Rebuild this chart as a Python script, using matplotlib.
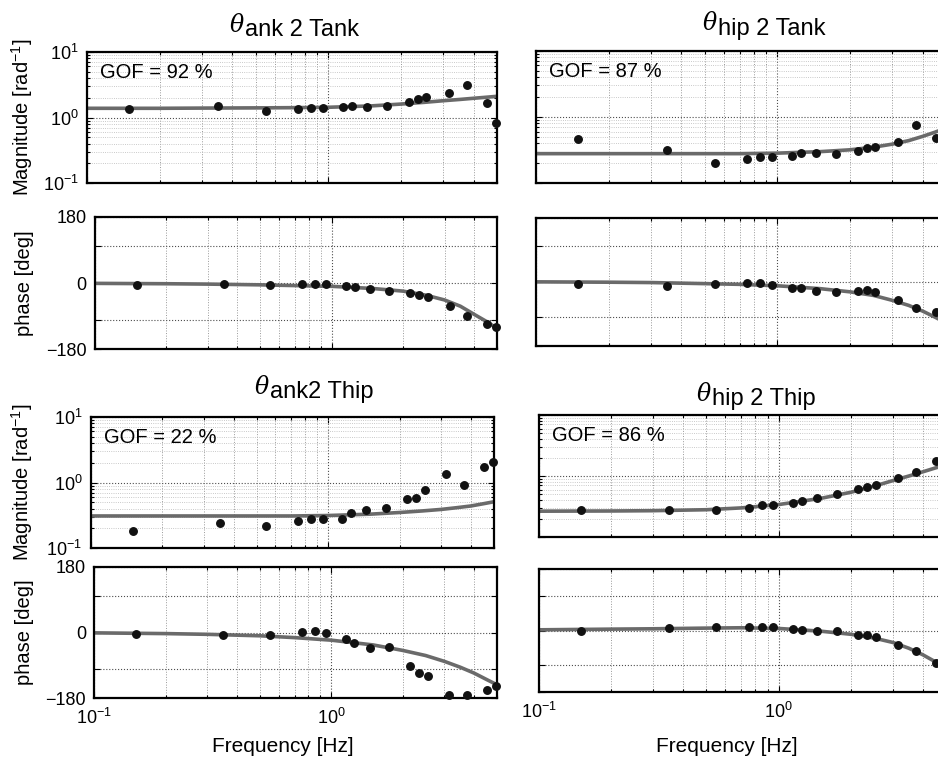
import matplotlib
matplotlib.use("Agg")
import matplotlib.pyplot as plt
import matplotlib.transforms as mtrans
from matplotlib.ticker import LogLocator, NullFormatter, FixedLocator, FixedFormatter

plt.rcParams['font.family'] = ['Liberation Sans', 'DejaVu Sans']
plt.rcParams['mathtext.fontset'] = 'custom'
plt.rcParams['mathtext.rm'] = 'Liberation Sans'
plt.rcParams['mathtext.it'] = 'Liberation Sans:italic'
plt.rcParams['mathtext.default'] = 'regular'

# ---------------- data ----------------
freqs = [0.15, 0.35, 0.55, 0.75, 0.85, 0.95, 1.15, 1.25, 1.45, 1.75,
         2.15, 2.35, 2.55, 3.15, 3.75, 4.55, 4.95]

mag_ank_ank = [1.33, 1.50, 1.27, 1.35, 1.38, 1.38, 1.43, 1.50, 1.46, 1.50,
               1.74, 1.89, 2.03, 2.38, 3.12, 1.64, 0.82]
phase_ank_ank = [-6, -4, -5, -3, -2, -2, -8, -10, -15, -23,
                 -26, -32, -39, -62, -89, -111, -120]

mag_hip_ank = [0.46, 0.32, 0.20, 0.23, 0.25, 0.25, 0.26, 0.29, 0.29, 0.28,
               0.31, 0.34, 0.35, 0.42, 0.76, 0.48, 0.45]
phase_hip_ank = [-6, -13, -6, -4, -4, -8, -17, -17, -25, -29,
                 -25, -24, -28, -50, -74, -85, -100]

mag_ank_hip = [0.185, 0.245, 0.218, 0.257, 0.28, 0.275, 0.28, 0.35, 0.38, 0.405,
               0.56, 0.58, 0.78, 1.33, 0.92, 1.70, 2.07]
phase_ank_hip = [-5, -6, -7, 2, 4, -2, -18, -30, -42, -40,
                 -93, -110, -119, -171, -172, -157, -146]

mag_hip_hip = [0.274, 0.274, 0.28, 0.30, 0.33, 0.34, 0.36, 0.39, 0.43, 0.515,
               0.61, 0.65, 0.71, 0.93, 1.17, 1.75, 1.90]
phase_hip_hip = [-2, 6, 9, 10, 9, 9, 5, 1, -2, -2,
                 -12, -14, -18, -41, -59, -95, -110]

fit_f = [0.1, 0.2, 0.3, 0.5, 0.7, 1.0, 1.5, 2.0, 2.5, 3.0, 3.5, 4.0, 4.5, 5.0]
fit_mag_ank_ank = [1.38, 1.38, 1.39, 1.40, 1.41, 1.43, 1.50, 1.60, 1.70, 1.80, 1.88, 1.96, 2.03, 2.10]
fit_phase_ank_ank = [-1, -2, -3, -5, -7, -9, -15, -22, -33, -46, -63, -85, -104, -123]
fit_mag_hip_ank = [0.28, 0.28, 0.28, 0.28, 0.28, 0.285, 0.30, 0.32, 0.35, 0.39, 0.44, 0.51, 0.59, 0.68]
fit_phase_hip_ank = [0, -1, -2, -5, -7, -11, -19, -28, -38, -52, -66, -82, -99, -115]
fit_mag_ank_hip = [0.31, 0.31, 0.31, 0.31, 0.31, 0.315, 0.33, 0.35, 0.37, 0.39, 0.415, 0.44, 0.475, 0.51]
fit_phase_ank_hip = [-1, -3, -5, -9, -14, -21, -34, -49, -63, -79, -95, -111, -128, -143]
fit_mag_hip_hip = [0.265, 0.267, 0.27, 0.28, 0.30, 0.34, 0.43, 0.54, 0.68, 0.84, 1.0, 1.17, 1.35, 1.52]
fit_phase_hip_hip = [2, 4, 5, 7, 8, 6, -2, -11, -22, -35, -52, -71, -91, -110]

titles_sub = ["ank 2 Tank", "hip 2 Tank", "ank2 Thip", "hip 2 Thip"]
gof_labels = ["GOF = 92 %", "GOF = 87 %", "GOF = 22 %", "GOF = 86 %"]
phase_ticks = [-180, -100, 0, 100, 180]
phase_ticklabels = ["\u2212180", "", "0", "", "180"]

# ---------------- layout ----------------
W, H = 938, 760
fig = plt.figure(figsize=(W / 100, H / 100), dpi=100)


def add_ax(x0, x1, y0, y1):
    return fig.add_axes([x0 / W, 1 - y1 / H, (x1 - x0) / W, (y1 - y0) / H])


panels = [
    dict(mag=mag_ank_ank, ph=phase_ank_ank, fm=fit_mag_ank_ank, fp=fit_phase_ank_ank,
         mrect=(87, 497, 51.7, 183.3), prect=(95, 497, 216.7, 349.3), left=True, bottom=False,
         title=(245, 36)),
    dict(mag=mag_hip_ank, ph=phase_hip_ank, fm=fit_mag_hip_ank, fp=fit_phase_hip_ank,
         mrect=(536, 946, 50.7, 183.3), prect=(536, 946, 217.7, 346), left=False, bottom=False,
         title=(718, 35)),
    dict(mag=mag_ank_hip, ph=phase_ank_hip, fm=fit_mag_ank_hip, fp=fit_phase_ank_hip,
         mrect=(90.7, 494, 416.7, 548.3), prect=(94.3, 497, 566.7, 698.3), left=True, bottom=True,
         title=(270, 398)),
    dict(mag=mag_hip_hip, ph=phase_hip_hip, fm=fit_mag_hip_hip, fp=fit_phase_hip_hip,
         mrect=(539, 946, 415, 537), prect=(539, 946, 569, 692), left=False, bottom=True,
         title=(712, 405)),
]

line_col = '#6a6a6a'


def style(ax):
    for s in ax.spines.values():
        s.set_linewidth(1.6)
        s.set_color('black')
    ax.tick_params(which='both', direction='in', top=True, right=True,
                   labelsize=13, width=0.8, colors='black')
    ax.tick_params(which='major', length=4)
    ax.tick_params(which='minor', length=2)
    ax.tick_params(axis='y', pad=6)
    ax.set_axisbelow(True)


for i, p in enumerate(panels):
    # magnitude
    axm = add_ax(*p['mrect'])
    axm.set_xscale('log')
    axm.set_yscale('log')
    axm.set_xlim(0.1, 5.0)
    axm.set_ylim(0.1, 10)
    axm.plot(fit_f, p['fm'], color=line_col, lw=2.6, zorder=2, solid_capstyle='butt')
    axm.plot(freqs, p['mag'], 'o', color='#111111', ms=5.4, zorder=3, clip_on=False)
    axm.yaxis.set_major_locator(LogLocator(base=10, numticks=5))
    axm.yaxis.set_minor_locator(LogLocator(base=10, subs=range(2, 10), numticks=20))
    axm.xaxis.set_minor_locator(LogLocator(base=10, subs=range(2, 10), numticks=20))
    axm.yaxis.set_minor_formatter(NullFormatter())
    axm.xaxis.set_minor_formatter(NullFormatter())
    axm.xaxis.set_major_formatter(NullFormatter())
    if not p['left']:
        axm.yaxis.set_major_formatter(NullFormatter())
    axm.grid(which='major', ls=':', color='0.3', lw=0.8)
    axm.grid(which='minor', axis='x', ls=':', color='0.6', lw=0.7)
    axm.grid(which='minor', axis='y', ls=':', color='0.72', lw=0.6)
    style(axm)
    axm.annotate(gof_labels[i], xy=(0, 1), xycoords='axes fraction',
                 xytext=(13, -26), textcoords='offset pixels',
                 ha='left', va='baseline', fontsize=14.5, zorder=5)
    if p['left']:
        fig.text(22 / W, 1 - ((p['mrect'][2] + p['mrect'][3]) / 2) / H,
                 'Magnitude [rad$^{-1}$]', rotation=90, ha='center', va='center',
                 fontsize=14.5)

    # phase
    axp = add_ax(*p['prect'])
    axp.set_xscale('log')
    axp.set_xlim(0.1, 5.0)
    axp.set_ylim(-180, 180)
    axp.plot(fit_f, p['fp'], color=line_col, lw=2.6, zorder=2, solid_capstyle='butt')
    axp.plot(freqs, p['ph'], 'o', color='#111111', ms=5.4, zorder=3, clip_on=False)
    axp.yaxis.set_major_locator(FixedLocator(phase_ticks))
    if p['left']:
        axp.yaxis.set_major_formatter(FixedFormatter(phase_ticklabels))
    else:
        axp.yaxis.set_major_formatter(NullFormatter())
    axp.xaxis.set_minor_locator(LogLocator(base=10, subs=range(2, 10), numticks=20))
    axp.xaxis.set_minor_formatter(NullFormatter())
    if not p['bottom']:
        axp.xaxis.set_major_formatter(NullFormatter())
    axp.grid(which='major', ls=':', color='0.3', lw=0.8)
    axp.grid(which='minor', axis='x', ls=':', color='0.6', lw=0.7)
    style(axp)
    if p['left']:
        fig.text(24 / W, 1 - ((p['prect'][2] + p['prect'][3]) / 2) / H,
                 'phase [deg]', rotation=90, ha='center', va='center', fontsize=14.5)
    if p['bottom']:
        axp.tick_params(axis='x', pad=7)
        cx = (p['prect'][0] + p['prect'][1]) / 2
        fig.text((cx - 13) / W if p['left'] else 727 / W, 1 - 747 / H, 'Frequency [Hz]',
                 ha='center', va='center', fontsize=15)

    # title: raised italic theta followed by text
    tx, ty = p['title']
    fig.text(tx / W, 1 - ty / H, titles_sub[i], ha='left', va='baseline', fontsize=17)
    th_tr = mtrans.offset_copy(fig.transFigure, fig=fig, x=-1, y=4.5, units='dots')
    fig.text(tx / W, 1 - ty / H, '\u03b8', ha='right', va='baseline', fontsize=17,
             family='DejaVu Serif', style='italic', transform=th_tr)

fig.savefig('out.png', dpi=100)
